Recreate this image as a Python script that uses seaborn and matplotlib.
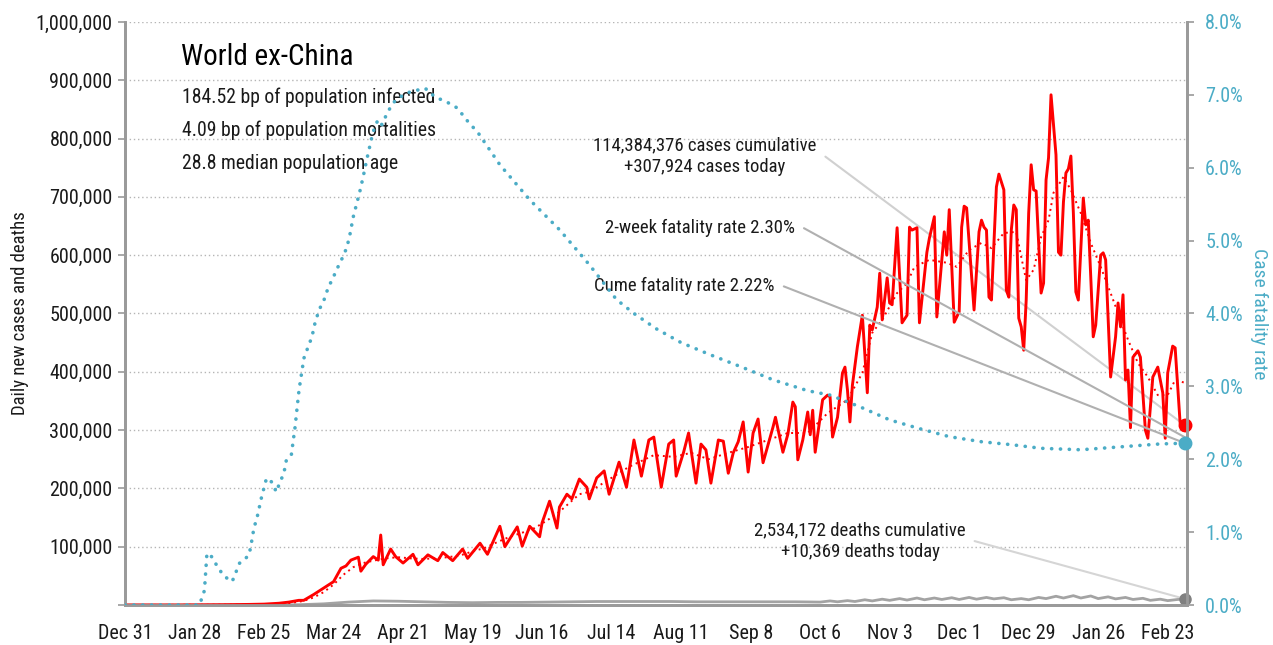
import pandas as pd
import matplotlib
matplotlib.use('Agg')
import matplotlib.pyplot as plt
import seaborn as sns

# days counted from Dec 31, 2019
start = pd.Timestamp('2019-12-31')

# daily new cases (thousands)
case_day = [0, 20, 40, 50, 56, 62, 66, 70, 72, 76, 80, 84, 87, 89, 91, 94, 95, 97, 100, 102, 103, 104,
            107, 109, 112, 116, 118, 122, 126, 128, 132, 136, 138, 143, 146, 151, 153, 158, 160, 163,
            167, 168, 171, 174, 175, 178, 180, 183, 186, 187, 190, 193, 195, 199, 202, 205, 208, 211,
            213, 216, 219, 221, 222, 225, 227, 230, 232, 234, 236, 239, 241, 243, 245, 247, 249, 251,
            253, 255, 257, 261, 262, 265, 267, 269, 270, 271, 273, 275, 276, 277, 278, 281, 283, 284,
            285, 287, 289, 290, 291, 292, 293, 295, 297, 299, 300, 301, 303, 304, 305, 307, 308, 309,
            311, 313, 315, 316, 317, 319, 320, 323, 324, 326, 327, 329, 330, 331, 332, 334, 336, 337,
            338, 339, 342, 344, 345, 346, 347, 348, 349, 351, 352, 354, 355, 356, 357, 358, 359, 360,
            361, 362, 363, 364, 365, 366, 367, 369, 370, 371, 372, 373, 375, 376, 377, 378, 379, 380,
            381, 382, 383, 384, 386, 387, 388, 389, 390, 391, 393, 394, 395, 397, 399, 400, 401, 402,
            403, 404, 405, 406, 408, 409, 411, 412, 414, 416, 418, 419, 420, 422, 423, 425, 426, 427]
case_val = [0, 0, 0.5, 1, 1.5, 3, 5, 8, 8, 18, 29, 40, 63, 67, 77, 82, 58, 70, 83, 77, 120, 69,
            96, 83, 72, 87, 69, 86, 76, 90, 76, 96, 80, 106, 87, 135, 100, 134, 101, 135,
            117, 141, 178, 132, 168, 190, 182, 216, 202, 182, 218, 230, 190, 245, 202, 283, 221, 283,
            288, 202, 276, 283, 221, 262, 295, 209, 276, 266, 209, 283, 281, 226, 261, 280, 314, 228,
            295, 319, 244, 305, 322, 262, 293, 348, 340, 249, 283, 331, 292, 334, 262, 352, 360, 357,
            288, 322, 398, 408, 369, 314, 377, 443, 497, 364, 480, 472, 511, 569, 489, 561, 518, 515,
            647, 484, 497, 648, 643, 647, 484, 605, 629, 666, 494, 592, 640, 600, 678, 485, 503, 648,
            684, 681, 506, 640, 660, 648, 643, 528, 523, 717, 739, 712, 540, 528, 643, 686, 678, 492,
            477, 437, 523, 672, 755, 712, 710, 535, 552, 729, 767, 875, 772, 605, 600, 691, 741, 748,
            770, 672, 537, 523, 698, 652, 660, 563, 460, 480, 600, 604, 592, 391, 460, 518, 477, 532,
            386, 403, 304, 425, 436, 425, 300, 286, 391, 408, 364, 286, 398, 444, 441, 312, 300, 307.924]

# 7-day average of new cases (thousands)
avg_day = [0, 50, 60, 66, 72, 76, 80, 84, 88, 92, 96, 100, 105, 110, 115, 120, 125, 130, 135, 140,
           145, 150, 155, 160, 165, 170, 175, 183, 187, 203, 213, 221, 228, 235, 243, 251, 259, 267,
           275, 283, 291, 297, 301, 305, 311, 315, 318, 324, 331, 335, 340, 345, 349, 354, 359, 361,
           363, 366, 369, 372, 374, 378, 381, 385, 389, 393, 397, 401, 404, 408, 412, 416, 420, 423, 427]
avg_val = [0, 0.5, 1, 3, 7, 13, 22, 35, 52, 65, 72, 76, 80, 82, 80, 79, 80, 82, 85, 92,
           98, 108, 117, 124, 132, 145, 160, 190, 194, 237, 257, 254, 261, 250, 261, 271, 283, 295,
           295, 329, 352, 398, 467, 489, 535, 552, 580, 592, 587, 580, 609, 621, 612, 638, 640, 597,
           557, 575, 631, 660, 707, 734, 712, 672, 621, 580, 535, 489, 455, 415, 391, 360, 360, 386, 381]

# daily deaths (thousands)
death_day = [0, 60, 70, 80, 90, 100, 110, 120, 130, 140, 150, 160, 170, 180, 190, 200, 210, 220, 230,
             240, 250, 260, 270, 280, 284, 287, 291, 294, 298, 301, 305, 308, 312, 315, 319, 322, 326,
             329, 333, 336, 340, 343, 347, 350, 354, 357, 361, 364, 368, 371, 375, 378, 382, 385, 389,
             392, 396, 399, 403, 406, 410, 413, 417, 420, 424, 427]
death_val = [0, 0, 0.5, 2, 5, 7, 6.5, 5.5, 4.5, 4, 4.5, 4.5, 5, 5.5, 6, 6, 6, 6, 5.5,
             5.5, 5.5, 5.5, 5.5, 5, 7, 5.5, 7.5, 6, 9, 7, 10, 8, 11, 8.5, 12, 9, 12,
             9.5, 12.5, 9.5, 13, 10, 13, 10.5, 12.5, 9, 11, 9, 13, 11, 15, 12, 16, 12, 15.5,
             11, 14, 10.5, 13, 9.5, 11.5, 8, 10, 7.5, 9.5, 10.369]

# cumulative case fatality rate (%)
cfr_day = [0, 30, 32, 33, 35, 36, 38, 39, 41, 43, 44, 45, 46, 48, 50, 51, 52, 53, 55, 57,
           59, 61, 62, 64, 65, 67, 67.7, 68.5, 69.3, 70.1, 71.3, 72.1, 73.3, 75.3, 76.6, 78.2,
           80.2, 81.8, 83.8, 85.8, 87.8, 89.4, 90.7, 91.9, 93.5, 94.7, 95.9, 97.5, 98.7, 99.9,
           101.9, 103.5, 105.6, 108, 110.8, 114.8, 120.9, 124.9, 129.7, 133.8, 138.2, 142.2,
           151, 163, 175, 187, 198, 205, 214, 224, 236, 248, 261, 275, 284, 296, 308, 320, 332,
           345, 357, 369, 385, 401, 417, 427]
cfr_val = [0, 0, 0.2, 0.71, 0.66, 0.59, 0.5, 0.43, 0.37, 0.32, 0.38, 0.48, 0.57, 0.62, 0.69, 0.87,
           1.07, 1.17, 1.48, 1.74, 1.69, 1.55, 1.65, 1.81, 1.99, 2.06, 2.24, 2.44, 2.7, 2.95, 3.22,
           3.39, 3.5, 3.68, 3.88, 4.05, 4.19, 4.35, 4.49, 4.64, 4.78, 4.91, 5.1, 5.32, 5.53, 5.69,
           5.87, 6.13, 6.31, 6.49, 6.66, 6.59, 6.75, 6.89, 6.97, 7.04, 7.09, 6.97, 6.9, 6.82, 6.63,
           6.48, 6.04, 5.56, 5.15, 4.67, 4.19, 4.0, 3.79, 3.6, 3.43, 3.27, 3.09, 2.94, 2.88, 2.72,
           2.54, 2.42, 2.31, 2.24, 2.2, 2.15, 2.13, 2.17, 2.21, 2.22]

two_week_rate = 2.30
x_tick_labels = ['Dec 31', 'Jan 28', 'Feb 25', 'Mar 24', 'Apr 21', 'May 19', 'Jun 16', 'Jul 14',
                 'Aug 11', 'Sep 8', 'Oct 6', 'Nov 3', 'Dec 1', 'Dec 29', 'Jan 26', 'Feb 23']
left_ticks = [0, 100, 200, 300, 400, 500, 600, 700, 800, 900, 1000]
right_ticks = [0, 1, 2, 3, 4, 5, 6, 7, 8]


def to_dates(days):
    return start + pd.to_timedelta(days, unit='D')


sns.set_style('white')
plt.rcParams['font.family'] = ['Roboto Condensed', 'DejaVu Sans']

BLUE = '#4bacc6'
RED = '#ff0000'
GREY = '#a3a3a3'
TXT = '#1a1a1a'

fig, ax = plt.subplots(figsize=(12.73, 6.45), dpi=100)
fig.subplots_adjust(left=0.0982, right=0.9325, bottom=0.062, top=0.966)
ax2 = ax.twinx()

cases = pd.DataFrame({'date': to_dates(case_day), 'v': case_val})
avg = pd.DataFrame({'date': to_dates(avg_day), 'v': avg_val})
deaths = pd.DataFrame({'date': to_dates(death_day), 'v': death_val})
cfr = pd.DataFrame({'date': to_dates(cfr_day), 'v': cfr_val})

sns.lineplot(data=deaths, x='date', y='v', ax=ax, color=GREY, lw=2.0, estimator=None, zorder=3)
sns.lineplot(data=cases, x='date', y='v', ax=ax, color=RED, lw=2.1, estimator=None, zorder=4)
sns.lineplot(data=avg, x='date', y='v', ax=ax, color=RED, lw=1.4, estimator=None, zorder=5,
             linestyle=(0, (1, 2)))
sns.lineplot(data=cfr, x='date', y='v', ax=ax2, color=BLUE, lw=2.6, estimator=None, zorder=3,
             linestyle=(0, (0.05, 2.4)), dash_capstyle='round')

# end markers
ax.plot(cases['date'].iloc[-1], cases['v'].iloc[-1], 'o', color=RED, ms=9, clip_on=False, zorder=6)
ax.plot(deaths['date'].iloc[-1], deaths['v'].iloc[-1], 'o', color='#808080', ms=8, clip_on=False, zorder=6)
ax2.plot(cfr['date'].iloc[-1], cfr['v'].iloc[-1], 'o', color=BLUE, ms=9, clip_on=False, zorder=6)

end_date = to_dates([427.8])[0]
ax.set_xlim(start, end_date)
ax.set_ylim(0, 1000)
ax2.set_ylim(0, 8)

tick_dates = to_dates([28 * i for i in range(len(x_tick_labels))])
ax.set_xticks(tick_dates)
ax.set_xticklabels(x_tick_labels)
ax.set_yticks(left_ticks)
ax.set_yticklabels(['' if t == 0 else f'{t * 1000:,}' for t in left_ticks])
ax2.set_yticks(right_ticks)
ax2.set_yticklabels([f'{t:.1f}%' for t in right_ticks])

ax.yaxis.grid(True, linestyle=(0, (1, 2)), color='#b5b5b5', lw=1)
ax.xaxis.grid(False)
ax.set_axisbelow(True)

for a in (ax, ax2):
    a.spines['top'].set_visible(False)
    for s in ('left', 'right', 'bottom'):
        a.spines[s].set_color('#9a9a9a')
        a.spines[s].set_linewidth(2)

ax.tick_params(axis='x', colors='#9a9a9a', length=6, width=1.5, labelsize=14.5, labelcolor=TXT, pad=8)
ax.tick_params(axis='y', colors='#9a9a9a', length=5, width=1.2, labelsize=14.5, labelcolor=TXT, pad=4)
ax2.tick_params(axis='y', colors='#9a9a9a', length=5, width=1.2, labelsize=14.5, labelcolor=BLUE, pad=8)

ax.set_xlabel('')
ax.set_ylabel('Daily new cases and deaths', fontsize=13.5, color=TXT, labelpad=5)
ax2.set_ylabel('Case fatality rate', fontsize=14, color=BLUE, rotation=270, labelpad=18)

ax.text(0.053, 0.94, 'World ex-China', transform=ax.transAxes, fontsize=21, color='#000000',
        va='center', ha='left')
subs = ['184.52 bp of population infected', '4.09 bp of population mortalities', '28.8 median population age']
for i, s in enumerate(subs):
    ax.text(0.054, 0.87 - i * 0.0565, s, transform=ax.transAxes, fontsize=14.2, color=TXT,
            va='center', ha='left')

# callouts
arc = 'arc,angleA=0,armA=8,angleB=0,armB=0,rad=0'
ax.annotate('114,384,376 cases cumulative\n+307,924 cases today',
            xy=(cases['date'].iloc[-1], cases['v'].iloc[-1]), xycoords='data',
            xytext=(0.546, 0.770), textcoords='axes fraction', ha='center', va='center',
            fontsize=13.5, color=TXT, linespacing=1.25, zorder=2,
            arrowprops=dict(arrowstyle='-', color='#d0d0d0', lw=1.5, shrinkA=4, shrinkB=0,
                            relpos=(1, 0.5), connectionstyle=arc))
ax2.annotate(f'2-week fatality rate {two_week_rate:.2f}%',
             xy=(cfr['date'].iloc[-1], two_week_rate), xycoords='data',
             xytext=(0.631, 0.647), textcoords='axes fraction', ha='right', va='center',
             fontsize=13.5, color=TXT, zorder=2,
             arrowprops=dict(arrowstyle='-', color='#b0b0b0', lw=1.5, shrinkA=4, shrinkB=0,
                             relpos=(1, 0.5), connectionstyle=arc))
ax2.annotate(f'Cume fatality rate {cfr_val[-1]:.2f}%',
             xy=(cfr['date'].iloc[-1], cfr_val[-1]), xycoords='data',
             xytext=(0.612, 0.547), textcoords='axes fraction', ha='right', va='center',
             fontsize=13.5, color=TXT, zorder=2,
             arrowprops=dict(arrowstyle='-', color='#b0b0b0', lw=1.5, shrinkA=4, shrinkB=0,
                             relpos=(1, 0.5), connectionstyle=arc))
ax.annotate('2,534,172 deaths cumulative\n+10,369 deaths today',
            xy=(deaths['date'].iloc[-1], deaths['v'].iloc[-1]), xycoords='data',
            xytext=(0.692, 0.110), textcoords='axes fraction', ha='center', va='center',
            fontsize=13.5, color=TXT, linespacing=1.25, zorder=2,
            arrowprops=dict(arrowstyle='-', color='#d5d5d5', lw=1.5, shrinkA=4, shrinkB=0,
                            relpos=(1, 0.5), connectionstyle=arc))

fig.savefig('out.png', dpi=100)
